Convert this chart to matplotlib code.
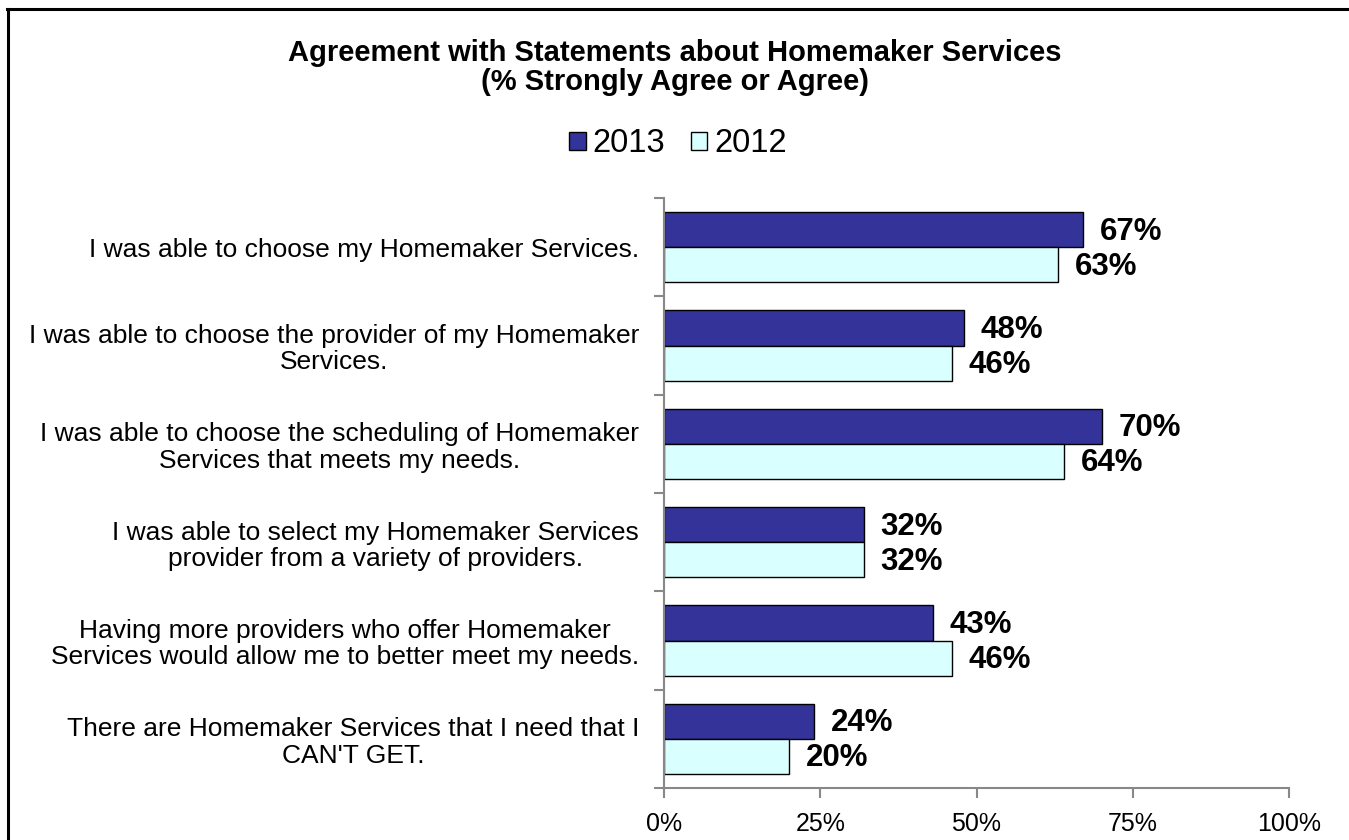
import matplotlib
matplotlib.use("Agg")
import matplotlib.pyplot as plt
import numpy as np
from matplotlib.lines import Line2D
from matplotlib.transforms import offset_copy

plt.rcParams['font.family'] = ['Liberation Sans', 'DejaVu Sans']

categories = [
    "I was able to choose my Homemaker Services.",
    "I was able to choose the provider of my Homemaker\nServices.",
    "I was able to choose the scheduling of Homemaker\nServices that meets my needs.",
    "I was able to select my Homemaker Services\nprovider from a variety of providers.",
    "Having more providers who offer Homemaker\nServices would allow me to better meet my needs.",
    "There are Homemaker Services that I need that I\nCAN'T GET.",
]
values_2013 = [67, 48, 70, 32, 43, 24]
values_2012 = [63, 46, 64, 32, 46, 20]
x_ticks = [0, 25, 50, 75, 100]
x_tick_labels = ["0%", "25%", "50%", "75%", "100%"]

W, H = 1349, 840
fig = plt.figure(figsize=(W / 100, H / 100), dpi=100)

# outer frame (top and left edges)
fig.add_artist(Line2D([8 / W, 8 / W], [0, 1 - 8.5 / H], transform=fig.transFigure,
                      color='black', linewidth=2.2))
fig.add_artist(Line2D([7 / W, 1], [1 - 8.5 / H, 1 - 8.5 / H], transform=fig.transFigure,
                      color='black', linewidth=2.2))

left, right, top, bottom = 664, 1289, 198, 788
ax = fig.add_axes([left / W, 1 - bottom / H, (right - left) / W, (bottom - top) / H])

n = len(categories)
pos = np.arange(n)
bh = 0.356
ax.barh(pos - bh / 2, values_2013, height=bh, color='#333399', edgecolor='black',
        linewidth=1.0, label='2013')
ax.barh(pos + bh / 2, values_2012, height=bh, color='#D9FFFF', edgecolor='black',
        linewidth=1.0, label='2012')

lab_tr = offset_copy(ax.transData, fig=fig, x=12, y=-1.5, units='points')
for i in range(n):
    ax.text(values_2013[i], pos[i] - bh / 2, f"{values_2013[i]}%", va='center',
            ha='left', fontsize=22.5, fontweight='bold', transform=lab_tr)
    ax.text(values_2012[i], pos[i] + bh / 2, f"{values_2012[i]}%", va='center',
            ha='left', fontsize=22.5, fontweight='bold', transform=lab_tr)

ax.set_xlim(0, 100)
ax.set_ylim(n - 0.5, -0.5)
ax.set_xticks(x_ticks)
ax.set_xticklabels(x_tick_labels, fontsize=18)
ax.set_yticks(pos)
ax.set_yticklabels(categories, fontsize=19, ha='right', multialignment='center',
                   linespacing=1.12)
ax.tick_params(axis='y', length=0, pad=18)
ax.set_yticks(np.arange(n + 1) - 0.5, minor=True)
ax.tick_params(axis='y', which='minor', length=7, color='#888888', width=1.5)
ax.tick_params(axis='x', length=7, color='#888888', width=1.5, pad=10)

for s in ['top', 'right']:
    ax.spines[s].set_visible(False)
for s in ['left', 'bottom']:
    ax.spines[s].set_color('#888888')
    ax.spines[s].set_linewidth(1.5)

fig.text(675 / W, 1 - 53 / H,
         "Agreement with Statements about Homemaker Services",
         ha='center', va='center', fontsize=21, fontweight='bold')
fig.text(675 / W, 1 - 82 / H, "(% Strongly Agree or Agree)",
         ha='center', va='center', fontsize=21, fontweight='bold')

fig.legend(loc='center', bbox_to_anchor=(678 / W, 1 - 144 / H), ncol=2, frameon=False,
           fontsize=23.5, handlelength=0.5, handleheight=0.5, handletextpad=0.2,
           columnspacing=0.8)

fig.savefig("out.png", dpi=100)
